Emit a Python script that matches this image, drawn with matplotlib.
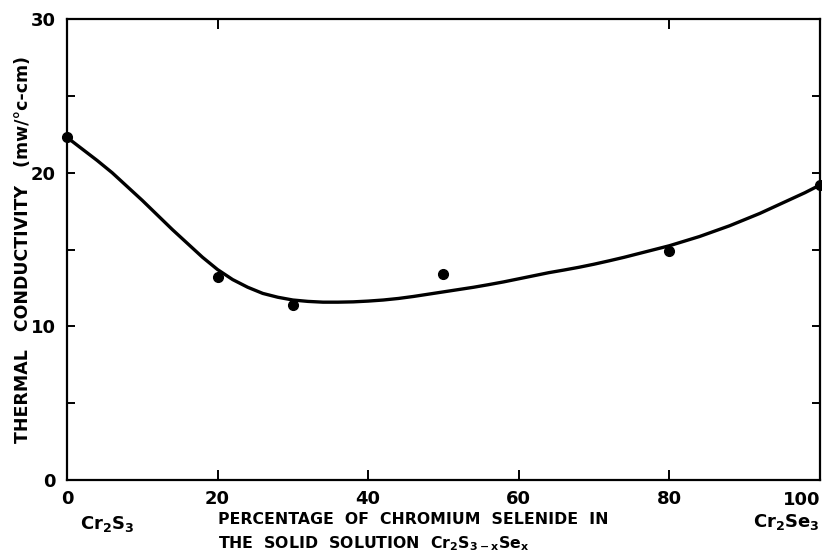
import matplotlib
matplotlib.use("Agg")
import matplotlib.pyplot as plt

# measured points
pct_se = [0, 20, 30, 50, 80, 100]
conductivity = [22.3, 13.2, 11.4, 13.4, 14.9, 19.2]

# hand-drawn fit curve, every 2 %
curve_x = list(range(0, 101, 2))
curve_y = [22.3, 21.55, 20.8, 20.0, 19.1, 18.2, 17.25, 16.3, 15.4, 14.5,
           13.7, 13.05, 12.55, 12.15, 11.9, 11.72, 11.63, 11.58, 11.58, 11.6,
           11.65, 11.72, 11.82, 11.95, 12.1, 12.25, 12.4, 12.55, 12.72, 12.9,
           13.1, 13.3, 13.5, 13.67, 13.85, 14.05, 14.27, 14.5, 14.75, 15.0,
           15.25, 15.55, 15.85, 16.2, 16.55, 16.95, 17.35, 17.8, 18.25, 18.7,
           19.2]

x_ticks = [0, 20, 40, 60, 80, 100]
y_ticks = [0, 10, 20, 30]

plt.rcParams['font.family'] = 'DejaVu Sans'
plt.rcParams['font.weight'] = 'bold'
plt.rcParams['mathtext.default'] = 'bf'

fig = plt.figure(figsize=(8.22, 5.59), dpi=100)
ax = fig.add_axes([0.0815, 0.141, 0.916, 0.825])

ax.plot(curve_x, curve_y, color='black', lw=2.4, solid_capstyle='round',
        solid_joinstyle='round')
ax.plot(pct_se, conductivity, 'o', color='black', ms=7, clip_on=False)

ax.set_xlim(0, 100)
ax.set_ylim(0, 30)
for s in ax.spines.values():
    s.set_linewidth(1.6)

ax.set_xticks(x_ticks)
ax.set_xticklabels(['0', '20', '40', '60', '80', ''])
ax.set_yticks(y_ticks)
ax.set_yticks([5, 15, 25], minor=True)
ax.tick_params(axis='both', which='both', direction='in', width=1.4,
               labelsize=13)
ax.tick_params(axis='y', which='major', length=6, pad=8)
ax.tick_params(axis='y', which='minor', length=6)
ax.tick_params(axis='x', which='major', length=7, pad=7)
ax.tick_params(axis='y', which='both', right=True)

# top ticks at 20 and 80 only
top = ax.secondary_xaxis('top')
top.set_xticks([20, 80])
top.set_xticklabels([])
top.tick_params(direction='in', length=7, width=1.4)
top.spines['top'].set_visible(False)

# "100" right-aligned to the frame edge
ax.text(100, -0.024, '100', transform=ax.get_xaxis_transform(),
        ha='right', va='top', fontsize=13, fontweight='bold')

ax.set_ylabel('THERMAL   CONDUCTIVITY   (mw/°c-cm)', fontsize=12.5,
              fontweight='bold')
ax.yaxis.set_label_coords(-0.047, 0.5)

fig.text(0.097, 0.062, r'Cr$_2$S$_3$', fontsize=13, ha='left', va='center')
fig.text(0.997, 0.066, r'Cr$_2$Se$_3$', fontsize=13, ha='right', va='center')
fig.text(0.265, 0.070, 'PERCENTAGE  OF  CHROMIUM  SELENIDE  IN',
         fontsize=11.3, ha='left', va='center')
fig.text(0.265, 0.028, r'THE  SOLID  SOLUTION  Cr$_2$S$_{3-x}$Se$_x$',
         fontsize=11.3, ha='left', va='center')

fig.savefig('out.png', dpi=100)
